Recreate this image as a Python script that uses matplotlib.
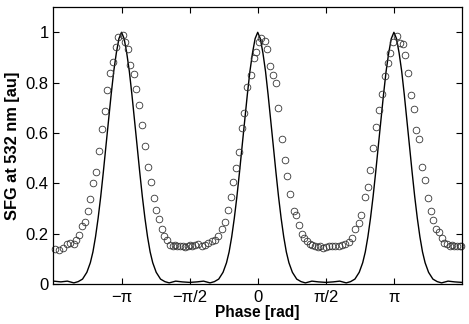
import numpy as np
import matplotlib
matplotlib.use("Agg")
import matplotlib.pyplot as plt

plt.rcParams['font.family'] = ['Liberation Sans', 'DejaVu Sans']

# measured SFG signal (open circles), phase in rad
phase_meas = [
    -4.687, -4.587, -4.495, -4.402, -4.326, -4.247, -4.187, -4.125, -4.048, -3.986,
    -3.924, -3.863, -3.794, -3.738, -3.662, -3.593, -3.530, -3.470, -3.401, -3.338,
    -3.276, -3.216, -3.114, -3.063, -3.000, -2.938, -2.859, -2.799, -2.737, -2.660,
    -2.598, -2.536, -2.466, -2.397, -2.337, -2.274, -2.205, -2.151, -2.089, -2.027,
    -1.966, -1.911, -1.858, -1.795, -1.735, -1.673, -1.619, -1.564, -1.513, -1.448,
    -1.372, -1.296, -1.217, -1.141, -1.064, -0.986, -0.909, -0.833, -0.754, -0.694,
    -0.625, -0.562, -0.500, -0.430, -0.361, -0.308, -0.238, -0.162, -0.093, -0.037,
    0.023, 0.086, 0.171, 0.224, 0.287, 0.363, 0.426, 0.479, 0.555, 0.618,
    0.687, 0.750, 0.826, 0.888, 0.949, 1.018, 1.073, 1.134, 1.196, 1.258,
    1.328, 1.388, 1.444, 1.504, 1.566, 1.636, 1.712, 1.791, 1.867, 1.943,
    2.022, 2.098, 2.175, 2.253, 2.330, 2.383, 2.468, 2.538, 2.600, 2.667,
    2.734, 2.797, 2.862, 2.931, 2.996, 3.058, 3.128, 3.202, 3.278, 3.341,
    3.398, 3.463, 3.533, 3.597, 3.655, 3.725, 3.787, 3.856, 3.933, 3.995,
    4.048, 4.111, 4.187, 4.243, 4.303, 4.365, 4.428, 4.481, 4.534, 4.597,
    4.659, 4.700,
]
sfg_meas = [
    0.140, 0.136, 0.145, 0.159, 0.165, 0.159, 0.175, 0.196, 0.230, 0.248,
    0.292, 0.337, 0.400, 0.446, 0.529, 0.617, 0.688, 0.769, 0.839, 0.883,
    0.941, 0.982, 0.989, 0.962, 0.934, 0.870, 0.835, 0.775, 0.712, 0.633,
    0.547, 0.464, 0.406, 0.343, 0.293, 0.258, 0.219, 0.193, 0.176, 0.156,
    0.153, 0.156, 0.150, 0.153, 0.150, 0.146, 0.153, 0.156, 0.153, 0.156,
    0.158, 0.153, 0.156, 0.162, 0.170, 0.176, 0.193, 0.217, 0.248, 0.294,
    0.347, 0.406, 0.461, 0.524, 0.621, 0.679, 0.782, 0.832, 0.898, 0.920,
    0.960, 0.978, 0.966, 0.933, 0.868, 0.830, 0.799, 0.699, 0.578, 0.492,
    0.430, 0.356, 0.290, 0.275, 0.234, 0.201, 0.184, 0.172, 0.158, 0.156,
    0.150, 0.146, 0.150, 0.143, 0.146, 0.150, 0.153, 0.153, 0.150, 0.156,
    0.158, 0.168, 0.184, 0.219, 0.242, 0.275, 0.347, 0.386, 0.452, 0.541,
    0.625, 0.690, 0.755, 0.828, 0.878, 0.917, 0.960, 0.986, 0.956, 0.953,
    0.908, 0.840, 0.752, 0.696, 0.614, 0.576, 0.466, 0.413, 0.343, 0.290,
    0.255, 0.219, 0.206, 0.184, 0.162, 0.158, 0.153, 0.156, 0.153, 0.153,
    0.153, 0.153,
]

# calculated curve (solid line)
phase_calc = [
    -4.712, -4.542, -4.392, -4.242, -4.142, -4.042, -3.942, -3.862, -3.802, -3.742,
    -3.682, -3.622, -3.562, -3.502, -3.442, -3.382, -3.322, -3.262, -3.202, -3.142,
    -3.082, -3.022, -2.962, -2.902, -2.842, -2.782, -2.722, -2.662, -2.602, -2.542,
    -2.482, -2.422, -2.342, -2.242, -2.142, -2.042, -1.892, -1.742, -1.571,
    -1.400, -1.250, -1.100, -1.000, -0.900, -0.800, -0.720, -0.660, -0.600, -0.540,
    -0.480, -0.420, -0.360, -0.300, -0.240, -0.180, -0.120, -0.060, 0.000,
    0.060, 0.120, 0.180, 0.240, 0.300, 0.360, 0.420, 0.480, 0.540, 0.600,
    0.660, 0.720, 0.800, 0.900, 1.000, 1.100, 1.250, 1.400, 1.571,
    1.742, 1.892, 2.042, 2.142, 2.242, 2.342, 2.422, 2.482, 2.542, 2.602,
    2.662, 2.722, 2.782, 2.842, 2.902, 2.962, 3.022, 3.082, 3.142,
    3.202, 3.262, 3.322, 3.382, 3.442, 3.502, 3.562, 3.622, 3.682, 3.742,
    3.802, 3.862, 3.942, 4.042, 4.142, 4.242, 4.392, 4.542, 4.712,
]
sfg_calc = [
    0.012, 0.009, 0.012, 0.005, 0.010, 0.020, 0.047, 0.085, 0.128, 0.188,
    0.262, 0.348, 0.445, 0.548, 0.650, 0.752, 0.845, 0.918, 0.975, 1.000,
    0.975, 0.918, 0.845, 0.752, 0.650, 0.548, 0.445, 0.348, 0.262, 0.188,
    0.128, 0.085, 0.047, 0.020, 0.010, 0.005, 0.012, 0.009, 0.007,
    0.009, 0.012, 0.005, 0.010, 0.020, 0.047, 0.085, 0.128, 0.188, 0.262,
    0.348, 0.445, 0.548, 0.650, 0.752, 0.845, 0.918, 0.975, 1.000,
    0.975, 0.918, 0.845, 0.752, 0.650, 0.548, 0.445, 0.348, 0.262, 0.188,
    0.128, 0.085, 0.047, 0.020, 0.010, 0.005, 0.012, 0.009, 0.007,
    0.009, 0.012, 0.005, 0.010, 0.020, 0.047, 0.085, 0.128, 0.188, 0.262,
    0.348, 0.445, 0.548, 0.650, 0.752, 0.845, 0.918, 0.975, 1.000,
    0.975, 0.918, 0.845, 0.752, 0.650, 0.548, 0.445, 0.348, 0.262, 0.188,
    0.128, 0.085, 0.047, 0.020, 0.010, 0.005, 0.012, 0.009, 0.007,
]

xtick_pos = [-np.pi, -np.pi / 2, 0, np.pi / 2, np.pi]
xtick_labels = ['\u2212\u03c0', '\u2212\u03c0/2', '0', '\u03c0/2', '\u03c0']
ytick_pos = [0, 0.2, 0.4, 0.6, 0.8, 1]
ytick_labels = ['0', '0.2', '0.4', '0.6', '0.8', '1']

fig = plt.figure(figsize=(4.69, 3.24), dpi=100)
ax = fig.add_axes([0.114, 0.123, 0.871, 0.855])

ax.plot(phase_calc, sfg_calc, color='black', linewidth=1.0)
ax.plot(phase_meas, sfg_meas, linestyle='none', marker='o', markersize=4.8,
        markerfacecolor='none', markeredgecolor='#333333', markeredgewidth=0.6,
        clip_on=False)

ax.set_xlim(-1.5 * np.pi, 1.5 * np.pi)
ax.set_ylim(0, 1.1)
ax.set_xticks(xtick_pos)
ax.set_xticklabels(xtick_labels)
ax.set_yticks(ytick_pos)
ax.set_yticklabels(ytick_labels)
ax.tick_params(direction='in', top=True, right=True, length=4, width=0.8,
               labelsize=12)
ax.tick_params(axis='x', pad=4)
ax.tick_params(axis='y', pad=3.5)
for s in ax.spines.values():
    s.set_linewidth(0.9)

ax.set_xlabel('Phase [rad]', fontsize=11.2, fontweight='bold', labelpad=0)
ax.set_ylabel('SFG at 532 nm [au]', fontsize=11.8, fontweight='bold', labelpad=4)

fig.savefig('out.png', dpi=100)
